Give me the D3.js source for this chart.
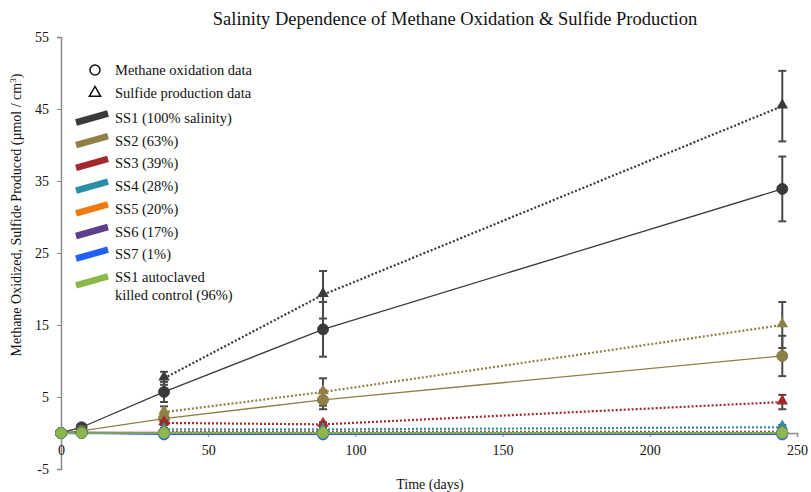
<!DOCTYPE html>
<html><head><meta charset="utf-8">
<script src="https://cdn.jsdelivr.net/npm/d3@7"></script>
<style>body{margin:0;background:#fff;} svg{display:block;} text{font-family:"Liberation Serif","Times New Roman",serif;}</style>
</head><body><svg id="c" width="811" height="492"></svg>
<script>
const days = [0, 7, 35, 89, 245];
const xTicks = [0, 50, 100, 150, 200, 250];
const yTicks = [-5, 5, 15, 25, 35, 45, 55];
const seriesNames = ["SS1 (100% salinity)", "SS2 (63%)", "SS3 (39%)", "SS4 (28%)", "SS5 (20%)", "SS6 (17%)", "SS7 (1%)", "SS1 autoclaved|killed control (96%)"];
const seriesColors = ["#3a3a3a", "#8f8045", "#a3282a", "#2a8ea6", "#f07a12", "#5e3f8c", "#2060f5", "#8ab84a"];
// methane oxidized (circles, solid)
const methane = [
  [0, 0.8, 5.7, 14.4, 33.9],
  [0, 0.3, 2.0, 4.6, 10.7],
  [0, 0.1, 0.1, 0.0, 0.0],
  [0, 0.1, 0.0, 0.0, 0.0],
  [0, 0.0, 0.0, 0.0, 0.0],
  [0, 0.0, 0.0, 0.0, 0.0],
  [0, 0.0, -0.2, -0.2, -0.2],
  [0, 0.0, 0.0, 0.0, 0.0]
];
const methaneErr = [
  [0, 0.3, 1.4, 3.8, 4.5],
  [0, 0.2, 0.6, 1.3, 2.8],
  [0, 0, 0.2, 0.2, 0.2],
  [0, 0, 0.1, 0.1, 0.1],
  [0, 0, 0, 0, 0],
  [0, 0, 0, 0, 0],
  [0, 0, 0, 0, 0],
  [0, 0, 0, 0, 0]
];
// sulfide produced (triangles, dotted), days 35, 89, 245
const sulfideDays = [35, 89, 245];
const sulfide = [
  [7.6, 19.2, 45.4],
  [2.9, 5.7, 15.0],
  [1.4, 1.2, 4.3],
  [0.5, 0.5, 0.8],
  [0.2, 0.2, 0.2],
  [0.1, 0.1, 0.1],
  [0.0, 0.0, 0.0],
  [0.0, 0.0, 0.0]
];
const sulfideErr = [
  [0.9, 3.3, 4.9],
  [0.8, 1.9, 3.2],
  [0.3, 0.3, 1.0],
  [0.2, 0.2, 0.3],
  [0, 0, 0],
  [0, 0, 0],
  [0, 0, 0],
  [0, 0, 0]
];

const svg = d3.select("#c");
const x = d3.scaleLinear().domain([0, 250]).range([61, 797]);
const y = d3.scaleLinear().domain([-5, 55]).range([469, 37]);
const axisColor = "#8a8a8a";
const serif = '"Liberation Serif","Times New Roman",serif';

// title
svg.append("text").attr("x", 455).attr("y", 25).attr("text-anchor", "middle")
  .attr("font-size", 18.5).attr("font-family", serif).attr("fill", "#111")
  .text("Salinity Dependence of Methane Oxidation & Sulfide Production");

// y axis
const ya = svg.append("g").attr("transform", `translate(${x(0)},0)`)
  .call(d3.axisLeft(y).tickValues(yTicks).tickFormat(d => String(d)).tickSize(4).tickPadding(8));
ya.attr("font-family", serif);
ya.select(".domain").attr("stroke", axisColor).attr("stroke-width", 1.5);
ya.selectAll(".tick line").attr("stroke", axisColor);
ya.selectAll(".tick text").attr("font-size", 14).attr("fill", "#111");

// x axis at y=0
const xa = svg.append("g").attr("transform", `translate(0,${y(0)})`)
  .call(d3.axisBottom(x).tickValues(xTicks).tickFormat(d => String(d)).tickSize(4).tickPadding(8));
xa.attr("font-family", serif);
xa.select(".domain").attr("stroke", axisColor).attr("stroke-width", 1.5);
xa.selectAll(".tick line").attr("stroke", axisColor);
xa.selectAll(".tick text").attr("font-size", 14).attr("fill", "#111");

// axis labels
svg.append("text").attr("x", 430).attr("y", 489).attr("text-anchor", "middle")
  .attr("font-size", 14).attr("font-family", serif).attr("fill", "#111").text("Time (days)");
svg.append("text").attr("transform", "translate(21,215) rotate(-90)").attr("text-anchor", "middle")
  .attr("font-size", 14).attr("font-family", serif).attr("fill", "#111")
  .html('Methane Oxidized, Sulfide Produced (µmol / cm<tspan dy="-5" font-size="9">3</tspan><tspan dy="5">)</tspan>');

const lineM = d3.line().x((d, i) => x(days[i])).y(d => y(d));
const lineS = d3.line().x((d, i) => x(sulfideDays[i])).y(d => y(d));
const tri = d3.symbol().type(d3.symbolTriangle).size(58);

const order = [0, 1, 2, 3, 4, 5, 6, 7];
const g = svg.append("g");
order.forEach(s => {
  g.append("path").datum(methane[s]).attr("d", lineM).attr("fill", "none")
    .attr("stroke", seriesColors[s]).attr("stroke-width", 1.3);
  g.append("path").datum(sulfide[s]).attr("d", lineS).attr("fill", "none")
    .attr("stroke", seriesColors[s]).attr("stroke-width", 2.2).attr("stroke-dasharray", "2,2");
});
order.forEach(s => {
  const eb = (xx, v, e) => {
    if (e <= 0) return;
    const gg = g.append("g").attr("stroke", "#4a4a4a").attr("stroke-width", 2);
    gg.append("line").attr("x1", x(xx)).attr("x2", x(xx)).attr("y1", y(v - e)).attr("y2", y(v + e));
    gg.append("line").attr("x1", x(xx) - 4).attr("x2", x(xx) + 4).attr("y1", y(v - e)).attr("y2", y(v - e));
    gg.append("line").attr("x1", x(xx) - 4).attr("x2", x(xx) + 4).attr("y1", y(v + e)).attr("y2", y(v + e));
  };
  methane[s].forEach((v, i) => eb(days[i], v, methaneErr[s][i]));
  sulfide[s].forEach((v, i) => eb(sulfideDays[i], v, sulfideErr[s][i]));
  methane[s].forEach((v, i) => {
    g.append("circle").attr("cx", x(days[i])).attr("cy", y(v)).attr("r", 5.5)
      .attr("fill", seriesColors[s]).attr("stroke", d3.color(seriesColors[s]).darker(0.3)).attr("stroke-width", 0.8);
  });
  sulfide[s].forEach((v, i) => {
    g.append("path").attr("d", tri).attr("transform", `translate(${x(sulfideDays[i])},${y(v) - 1})`)
      .attr("fill", seriesColors[s]);
  });
});

// legend
const lg = svg.append("g");
lg.append("circle").attr("cx", 95).attr("cy", 70).attr("r", 5).attr("fill", "none").attr("stroke", "#111").attr("stroke-width", 1.5);
lg.append("text").attr("x", 115).attr("y", 75).attr("font-size", 14.5).attr("font-family", serif).attr("fill", "#111").text("Methane oxidation data");
lg.append("path").attr("d", d3.symbol().type(d3.symbolTriangle).size(55)).attr("transform", "translate(95,93)")
  .attr("fill", "none").attr("stroke", "#111").attr("stroke-width", 1.5);
lg.append("text").attr("x", 115).attr("y", 98).attr("font-size", 14.5).attr("font-family", serif).attr("fill", "#111").text("Sulfide production data");
seriesNames.forEach((name, i) => {
  const yy = 118 + i * 22.7 + (i === 7 ? 4 : 0);
  lg.append("line").attr("x1", 76).attr("x2", 108).attr("y1", yy + 4.5).attr("y2", yy - 4.5)
    .attr("stroke", seriesColors[i]).attr("stroke-width", 6.5);
  const parts = name.split("|");
  parts.forEach((p, j) => {
    lg.append("text").attr("x", 115).attr("y", yy + 5 - (parts.length > 1 ? 4 : 0) + j * 18)
      .attr("font-size", 14.5).attr("font-family", serif).attr("fill", "#111").text(p);
  });
});
</script></body></html>
